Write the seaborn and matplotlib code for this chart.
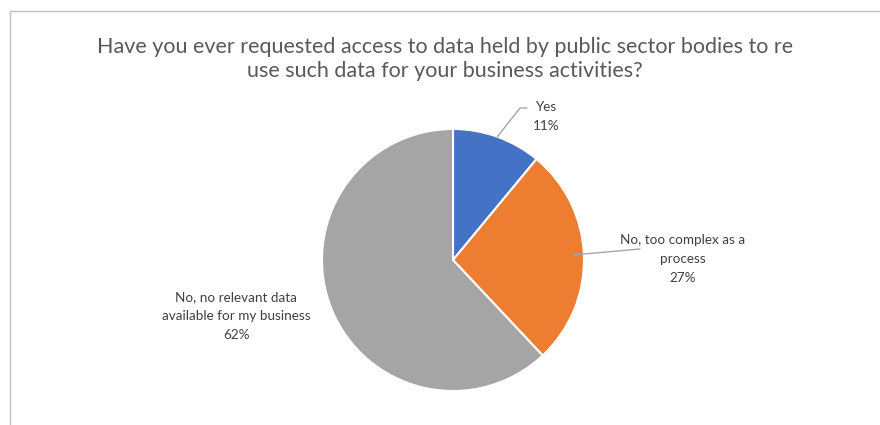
import numpy as np
import matplotlib.pyplot as plt
import seaborn as sns

# data
labels = ['Yes', 'No, too complex as a\nprocess', 'No, no relevant data\navailable for my business']
shares = [11, 27, 62]
colors = ['#4472C4', '#ED7D31', '#A5A5A5']
title = 'Have you ever requested access to data held by public sector bodies to re\nuse such data for your business activities?'

sns.set_theme(style='white')
plt.rcParams['font.family'] = ['Lato', 'DejaVu Sans']

fig = plt.figure(figsize=(8.8, 4.25), dpi=100)
# axes in pixel units (y going up)
ax = fig.add_axes([0, 0, 1, 1])
W, H = 880, 425
cx, cy, r = 453, 165, 131

wedges, _ = ax.pie(shares, colors=colors, startangle=90, counterclock=False,
                   center=(cx, cy), radius=r,
                   wedgeprops=dict(edgecolor='white', linewidth=1.5))
ax.set_xlim(0, W)
ax.set_ylim(0, H)
ax.set_aspect('equal')
ax.axis('off')

# chart border (top and left visible)
ax.plot([9.5, 9.5, W], [0, H - 11, H - 11], color='#BFBFBF', lw=1, clip_on=False)

ax.text(445, H - 59, title, ha='center', va='center', fontsize=15.5,
        color='#595959', linespacing=1.2)

# labels with leader lines
txt = dict(fontsize=9.7, color='#404040', ha='center', va='center', linespacing=1.7)
mids = []
for w in wedges:
    mids.append(np.deg2rad((w.theta1 + w.theta2) / 2))

def edge(i):
    return cx + r * np.cos(mids[i]), cy + r * np.sin(mids[i])

lc = '#A6A6A6'
x0, y0 = edge(0)
ax.plot([x0, 520, 527], [y0, H - 108, H - 108], color=lc, lw=1)
ax.text(546, H - 116, f'{labels[0]}\n{shares[0]}%', **txt)

x1, y1 = edge(1)
ax.plot([x1 - 10, 640], [y1 + 1, H - 249], color=lc, lw=1)
ax.text(683, H - 259, f'{labels[1]}\n{shares[1]}%', **txt)

ax.text(236, H - 316, f'{labels[2]}\n{shares[2]}%', **txt)

fig.savefig('out.png', dpi=100)
